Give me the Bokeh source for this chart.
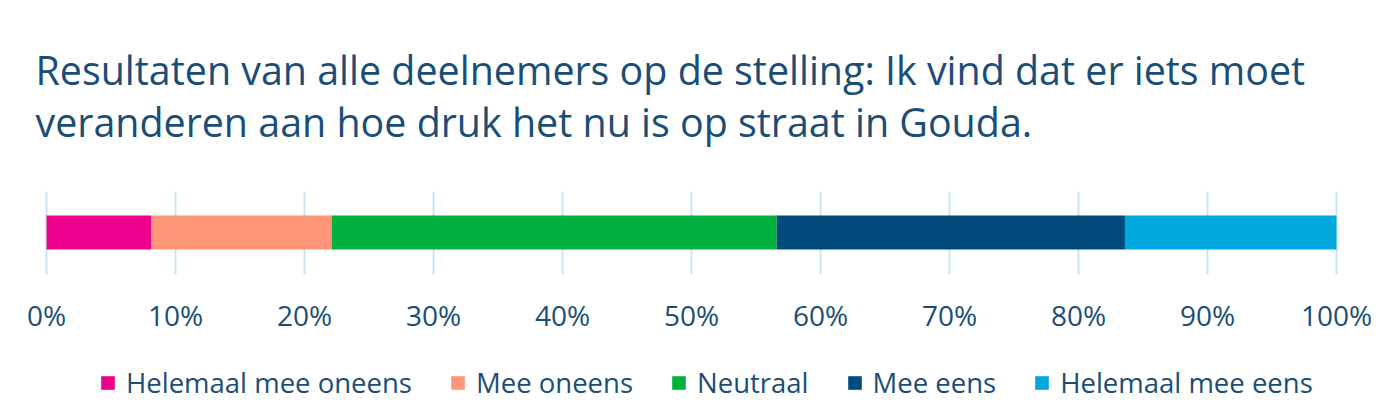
from bokeh.plotting import figure
from bokeh.layouts import column
from bokeh.models import ColumnDataSource, Legend, Label, PrintfTickFormatter, FixedTicker, Range1d
from bokeh.embed import file_html
from bokeh.resources import INLINE

title_lines = [
    "Resultaten van alle deelnemers op de stelling: Ik vind dat er iets moet",
    "veranderen aan hoe druk het nu is op straat in Gouda.",
]
categories = ["Helemaal mee oneens", "Mee oneens", "Neutraal", "Mee eens", "Helemaal mee eens"]
keys = ["c1", "c2", "c3", "c4", "c5"]
values = [8.1, 14.0, 34.5, 27.0, 16.4]
colors = ["#EC008C", "#FF9677", "#00B140", "#004A7C", "#00A8DE"]
ticks = [0, 10, 20, 30, 40, 50, 60, 70, 80, 90, 100]

FONT = "Open Sans"
TEXT = "#1A4E78"
W = 1375
PAD_L, PAD_R = 46, 39          # pixels left/right of the 0%..100% span
PX_PER_UNIT = (W - PAD_L - PAD_R) / 100.0

data = {"y": [0.506]}
for k, v in zip(keys, values):
    data[k] = [v]
source = ColumnDataSource(data)


def bare(fig):
    fig.axis.visible = False
    fig.grid.grid_line_color = None
    fig.outline_line_color = None
    return fig


# --- title block ---
p0 = bare(figure(width=W, height=150, title=None, output_backend="svg", toolbar_location=None,
                 x_range=Range1d(0, W), y_range=Range1d(150, 0),
                 min_border=0, min_border_left=0, min_border_right=0,
                 min_border_top=0, min_border_bottom=0))
for line, base in zip(title_lines, [69, 121]):
    p0.add_layout(Label(x=35, y=base, text=line, text_font=FONT, text_font_size="39.4px",
                        text_color=TEXT, text_baseline="alphabetic"))

# --- bar chart ---
p = figure(width=W, height=194, title=None, output_backend="svg", toolbar_location=None,
           x_range=Range1d(-PAD_L / PX_PER_UNIT, 100 + PAD_R / PX_PER_UNIT), y_range=Range1d(0, 1),
           min_border_left=0, min_border_right=0, min_border_top=41, min_border_bottom=70)
p.outline_line_color = None
renderers = p.hbar_stack(keys, y="y", height=0.41, color=colors, line_color=None, source=source)
p.yaxis.visible = False
p.ygrid.grid_line_color = None
p.xgrid.grid_line_color = "#C4E6F8"
p.xgrid.grid_line_width = 2
p.xgrid.ticker = FixedTicker(ticks=ticks)
p.xaxis.ticker = FixedTicker(ticks=ticks)
p.xaxis.formatter = PrintfTickFormatter(format="%d%%")
p.xaxis.axis_line_color = None
p.xaxis.major_tick_line_color = None
p.xaxis.minor_tick_line_color = None
p.xaxis.major_tick_out = 0
p.xaxis.major_tick_in = 0
p.xaxis.major_label_standoff = 21
p.xaxis.major_label_text_font = FONT
p.xaxis.major_label_text_font_size = "28px"
p.xaxis.major_label_text_color = TEXT

# --- legend block (same series, bars kept out of view) ---
p2 = bare(figure(width=W, height=76, title=None, output_backend="svg", toolbar_location=None,
                 x_range=Range1d(0, 100), y_range=Range1d(10, 11),
                 min_border_left=0, min_border_right=0, min_border_top=0, min_border_bottom=0))
leg_renderers = p2.hbar_stack(keys, y="y", height=0.41, color=colors, line_color=None, source=source)
legend = Legend(items=[(c, [r]) for c, r in zip(categories, leg_renderers)],
                orientation="horizontal", location=(99, 19),
                label_text_font=FONT, label_text_font_size="27.5px", label_text_color=TEXT,
                glyph_width=17, glyph_height=17, label_standoff=10, spacing=37,
                border_line_color=None, background_fill_alpha=0, padding=0, margin=0)
p2.add_layout(legend, "center")

layout = column(p0, p, p2, spacing=0)
open("out.html", "w").write(file_html(layout, INLINE))
